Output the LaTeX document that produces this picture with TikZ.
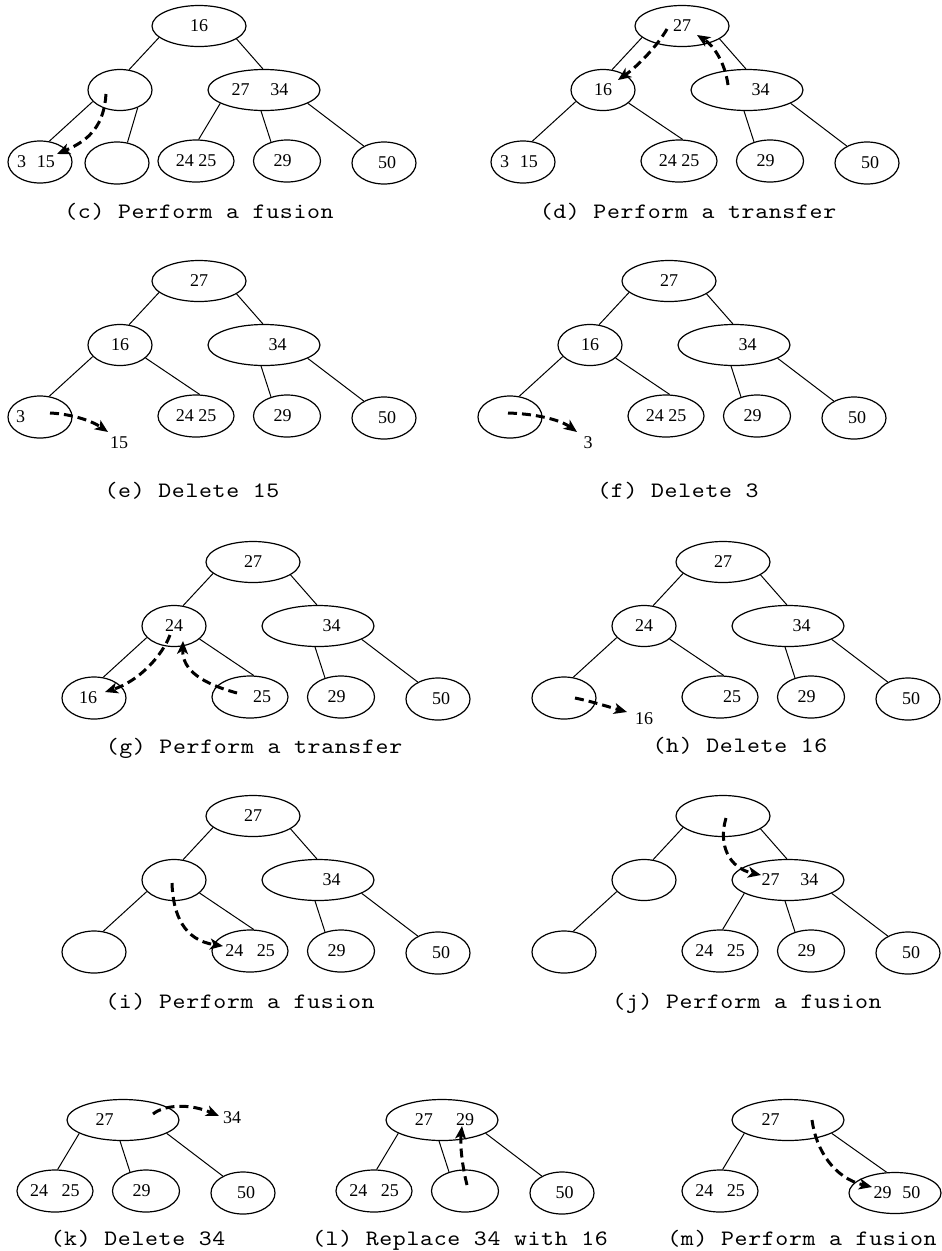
\documentclass[tikz,border=0pt]{standalone}
\usepackage{fontspec}
\setmainfont{Liberation Serif}
\newfontfamily\capfont{lmmono10-regular.otf}[FakeStretch=1.12,LetterSpace=3]
\usetikzlibrary{shapes.geometric,arrows.meta}
\newcommand\numsize{\fontsize{18pt}{21pt}\selectfont}
\newcommand\capsize{\capfont\fontsize{22pt}{26pt}\selectfont}
\newcommand\sft[2]{\makebox[0pt]{\hspace{#1}#2}}
\begin{document}
\begin{tikzpicture}[x=1pt,y=-1pt,
  nd/.style={ellipse,draw,line width=1.2pt,inner sep=0pt,minimum width=64pt,minimum height=41pt,font=\numsize},
  rootw/.style={minimum width=94pt},
  wide/.style={minimum width=112pt},
  leaf/.style={minimum height=42pt},
  leafC/.style={minimum width=76pt,minimum height=42pt},
  leafD/.style={minimum width=67pt,minimum height=42pt},
  ed/.style={line width=1pt},
  mv/.style={line width=3pt,dash pattern=on 9pt off 5pt,-{Stealth[length=13pt,width=11pt,inset=3.5pt]}},
  captxt/.style={font=\capsize,inner sep=0pt,anchor=base},
  lab/.style={font=\numsize,inner sep=0pt}]
\useasboundingbox (0,0) rectangle (942,1251);

% ---------- (c)
\begin{scope}[shift={(0,0)}]
\node[nd,rootw] (cR) at (199,26) {16};
\node[nd] (cL) at (120,90) {};
\node[nd,wide] (cT) at (264,90) {\sft{-8pt}{27\hspace{1.15em}34}};
\node[nd,leaf] (cA) at (40,162) {\sft{-8pt}{3\hspace{0.6em}15}};
\node[nd,leaf] (cB) at (117,163) {};
\node[nd,leafC] (cC) at (196,161) {24 25};
\node[nd,leafD] (cD) at (287,161) {\sft{-9pt}{29}};
\node[nd,leaf] (cE) at (384,163) {\sft{6pt}{50}};
\draw[ed] (cR.196) -- (cL.66);
\draw[ed] (cR.-19) -- (cT.93);
\draw[ed] (cL.-157) -- (cA.66);
\draw[ed] (cL.-45) -- (cB.63);
\draw[ed] (cT.-163) -- (cC.83);
\draw[ed] (cT.-98) -- (cD.130);
\draw[ed] (cT.-17) -- (cE.140);
\coordinate (cs) at (106,94); \coordinate (ct) at (57,154);
\draw[mv] (cs) .. controls (104,125) and (90,140) .. (ct);
\end{scope}

% ---------- (d)
\begin{scope}[shift={(483,0)}]
\node[nd,rootw] (dR) at (199,26) {27};
\node[nd] (dL) at (120,90) {16};
\node[nd,wide] (dT) at (264,90) {\sft{27pt}{34}};
\node[nd,leaf] (dA) at (40,162) {\sft{-8pt}{3\hspace{0.6em}15}};
\node[nd,leafC] (dC) at (196,161) {24 25};
\node[nd,leafD] (dD) at (287,161) {\sft{-9pt}{29}};
\node[nd,leaf] (dE) at (384,163) {\sft{6pt}{50}};
\draw[ed] (dR.196) -- (dL.66);
\draw[ed] (dR.-19) -- (dT.93);
\draw[ed] (dL.-157) -- (dA.66);
\draw[ed] (dL.-27) -- (dC.80);
\draw[ed] (dT.-98) -- (dD.130);
\draw[ed] (dT.-17) -- (dE.140);
\coordinate (ds1) at (184,29); \coordinate (dt1) at (135,80);
\coordinate (ds2) at (245,85); \coordinate (dt2) at (214,35);
\draw[mv] (ds1) .. controls (175,45) and (155,66) .. (dt1);
\draw[mv] (ds2) .. controls (242,62) and (230,45) .. (dt2);
\end{scope}

% ---------- (e)
\begin{scope}[shift={(0,255)}]
\node[nd,rootw] (eR) at (199,26) {27};
\node[nd] (eL) at (120,90) {16};
\node[nd,wide] (eT) at (264,90) {\sft{27pt}{34}};
\node[nd,leaf] (eA) at (40,162) {\sft{-39pt}{3}};
\node[nd,leafC] (eC) at (196,161) {24 25};
\node[nd,leafD] (eD) at (287,161) {\sft{-9pt}{29}};
\node[nd,leaf] (eE) at (384,163) {\sft{6pt}{50}};
\draw[ed] (eR.196) -- (eL.66);
\draw[ed] (eR.-19) -- (eT.93);
\draw[ed] (eL.-157) -- (eA.66);
\draw[ed] (eL.-27) -- (eC.80);
\draw[ed] (eT.-98) -- (eD.130);
\draw[ed] (eT.-17) -- (eE.140);
\coordinate (es) at (50,158);
\node[lab] (e15) at (119,188) {15};
\draw[mv] (es) .. controls (72,159) and (92,166) .. (108,177) coordinate (et);
\end{scope}

% ---------- (f)
\begin{scope}[shift={(470,255)}]
\node[nd,rootw] (fR) at (199,26) {27};
\node[nd] (fL) at (120,90) {16};
\node[nd,wide] (fT) at (264,90) {\sft{27pt}{34}};
\node[nd,leaf] (fA) at (40,162) {};
\node[nd,leafC] (fC) at (196,161) {24 25};
\node[nd,leafD] (fD) at (287,161) {\sft{-9pt}{29}};
\node[nd,leaf] (fE) at (384,163) {\sft{6pt}{50}};
\draw[ed] (fR.196) -- (fL.66);
\draw[ed] (fR.-19) -- (fT.93);
\draw[ed] (fL.-157) -- (fA.66);
\draw[ed] (fL.-27) -- (fC.80);
\draw[ed] (fT.-98) -- (fD.130);
\draw[ed] (fT.-17) -- (fE.140);
\coordinate (fs) at (38,158);
\node[lab] (f3) at (118,188) {3};
\draw[mv] (fs) .. controls (70,159) and (92,166) .. (107,177) coordinate (ft);
\end{scope}

% ---------- (g)
\begin{scope}[shift={(54,536)}]
\node[nd,rootw] (gR) at (199,26) {27};
\node[nd] (gL) at (120,90) {24};
\node[nd,wide] (gT) at (264,90) {\sft{27pt}{34}};
\node[nd,leaf] (gA) at (40,162) {\sft{-12pt}{16}};
\node[nd,leafC] (gC) at (196,161) {\sft{24pt}{25}};
\node[nd,leafD] (gD) at (287,161) {\sft{-9pt}{29}};
\node[nd,leaf] (gE) at (384,163) {\sft{6pt}{50}};
\draw[ed] (gR.196) -- (gL.66);
\draw[ed] (gR.-19) -- (gT.93);
\draw[ed] (gL.-157) -- (gA.66);
\draw[ed] (gL.-27) -- (gC.80);
\draw[ed] (gT.-98) -- (gD.130);
\draw[ed] (gT.-17) -- (gE.140);
\coordinate (gs1) at (116,99); \coordinate (gt1) at (51,156);
\coordinate (gs2) at (183,157); \coordinate (gt2) at (129,105);
\draw[mv] (gs1) .. controls (108,120) and (85,145) .. (gt1);
\draw[mv] (gs2) .. controls (150,148) and (128,135) .. (gt2);
\end{scope}

% ---------- (h)
\begin{scope}[shift={(524,536)}]
\node[nd,rootw] (hR) at (199,26) {27};
\node[nd] (hL) at (120,90) {24};
\node[nd,wide] (hT) at (264,90) {\sft{27pt}{34}};
\node[nd,leaf] (hA) at (40,162) {};
\node[nd,leafC] (hC) at (196,161) {\sft{24pt}{25}};
\node[nd,leafD] (hD) at (287,161) {\sft{-9pt}{29}};
\node[nd,leaf] (hE) at (384,163) {\sft{6pt}{50}};
\draw[ed] (hR.196) -- (hL.66);
\draw[ed] (hR.-19) -- (hT.93);
\draw[ed] (hL.-157) -- (hA.66);
\draw[ed] (hL.-27) -- (hC.80);
\draw[ed] (hT.-98) -- (hD.130);
\draw[ed] (hT.-17) -- (hE.140);
\coordinate (hs) at (51,162);
\node[lab] (h16) at (120,183) {16};
\draw[mv] (hs) .. controls (70,166) and (85,171) .. (103,176) coordinate (ht);
\end{scope}

% ---------- (i)
\begin{scope}[shift={(54,790)}]
\node[nd,rootw] (iR) at (199,26) {27};
\node[nd] (iL) at (120,90) {};
\node[nd,wide] (iT) at (264,90) {\sft{27pt}{34}};
\node[nd,leaf] (iA) at (40,162) {};
\node[nd,leafC] (iC) at (196,161) {24\hspace{0.75em}25};
\node[nd,leafD] (iD) at (287,161) {\sft{-9pt}{29}};
\node[nd,leaf] (iE) at (384,163) {\sft{6pt}{50}};
\draw[ed] (iR.196) -- (iL.66);
\draw[ed] (iR.-19) -- (iT.93);
\draw[ed] (iL.-157) -- (iA.66);
\draw[ed] (iL.-27) -- (iC.80);
\draw[ed] (iT.-98) -- (iD.130);
\draw[ed] (iT.-17) -- (iE.140);
\coordinate (is) at (118,93); \coordinate (it) at (169,156);
\draw[mv] (is) .. controls (119,125) and (130,150) .. (it);
\end{scope}

% ---------- (j)
\begin{scope}[shift={(524,790)}]
\node[nd,rootw] (jR) at (199,26) {};
\node[nd] (jL) at (120,90) {};
\node[nd,wide] (jT) at (264,90) {\sft{4pt}{27\hspace{1.15em}34}};
\node[nd,leaf] (jA) at (40,162) {};
\node[nd,leafC] (jC) at (196,161) {24\hspace{0.75em}25};
\node[nd,leafD] (jD) at (287,161) {\sft{-9pt}{29}};
\node[nd,leaf] (jE) at (384,163) {\sft{6pt}{50}};
\draw[ed] (jR.196) -- (jL.66);
\draw[ed] (jR.-19) -- (jT.93);
\draw[ed] (jL.-157) -- (jA.66);
\draw[ed] (jT.-163) -- (jC.83);
\draw[ed] (jT.-98) -- (jD.130);
\draw[ed] (jT.-17) -- (jE.140);
\coordinate (js) at (202,28); \coordinate (jt) at (237,85);
\draw[mv] (js) .. controls (194,55) and (205,78) .. (jt);
\end{scope}

% ---------- (k)
\begin{scope}[shift={(-141,1030)}]
\node[nd,wide] (kT) at (264,90) {\sft{-37pt}{27}};
\node[nd,leafC] (kC) at (196,161) {24\hspace{0.75em}25};
\node[nd,leafD] (kD) at (287,161) {\sft{-9pt}{29}};
\node[nd,leaf] (kE) at (384,163) {\sft{6pt}{50}};
\draw[ed] (kT.-163) -- (kC.83);
\draw[ed] (kT.-98) -- (kD.130);
\draw[ed] (kT.-17) -- (kE.140);
\coordinate (ks) at (294,84);
\node[lab] (k34) at (373,88) {34};
\draw[mv] (ks) .. controls (305,75) and (330,73) .. (360,86) coordinate (kt);
\end{scope}

% ---------- (l)
\begin{scope}[shift={(178,1030)}]
\node[nd,wide] (lT) at (264,90) {\sft{5pt}{27\hspace{1.3em}29}};
\node[nd,leafC] (lC) at (196,161) {24\hspace{0.75em}25};
\node[nd,leafD] (lD) at (287,161) {};
\node[nd,leaf] (lE) at (384,163) {\sft{5pt}{50}};
\draw[ed] (lT.-163) -- (lC.83);
\draw[ed] (lT.-98) -- (lD.130);
\draw[ed] (lT.-17) -- (lE.140);
\coordinate (ls) at (289,155); \coordinate (lt) at (284,96);
\draw[mv] (ls) .. controls (284,135) and (282,115) .. (lt);
\end{scope}

% ---------- (m)
\begin{scope}[shift={(524,1030)}]
\node[nd,wide] (mT) at (264,90) {\sft{-35pt}{27}};
\node[nd,leafC] (mC) at (196,161) {24\hspace{0.75em}25};
\node[nd,minimum width=92pt] (mF) at (371,163) {\sft{4pt}{29\hspace{0.6em}50}};
\draw[ed] (mT.-163) -- (mC.83);
\draw[ed] (mT.-17) -- (mF.112);
\coordinate (ms) at (288,90); \coordinate (mt) at (348,157);
\draw[mv] (ms) .. controls (292,120) and (310,148) .. (mt);
\end{scope}

% ---------- captions
\node[captxt] (capc) at (199,218) {(c) Perform a fusion};
\node[captxt] (capd) at (688,218) {(d) Perform a transfer};
\node[captxt] (cape) at (192,497) {(e) Delete 15};
\node[captxt] (capf) at (678,497) {(f) Delete 3};
\node[captxt] (capg) at (254,753) {(g) Perform a transfer};
\node[captxt] (caph) at (740,752) {(h) Delete 16};
\node[captxt] (capi) at (240,1008) {(i) Perform a fusion};
\node[captxt] (capj) at (747,1008) {(j) Perform a fusion};
\node[captxt] (capk) at (138,1245) {(k) Delete 34};
\node[captxt] (capl) at (460,1245) {(l) Replace 34 with 16};
\node[captxt] (capm) at (802,1245) {(m) Perform a fusion};
\end{tikzpicture}
\end{document}
